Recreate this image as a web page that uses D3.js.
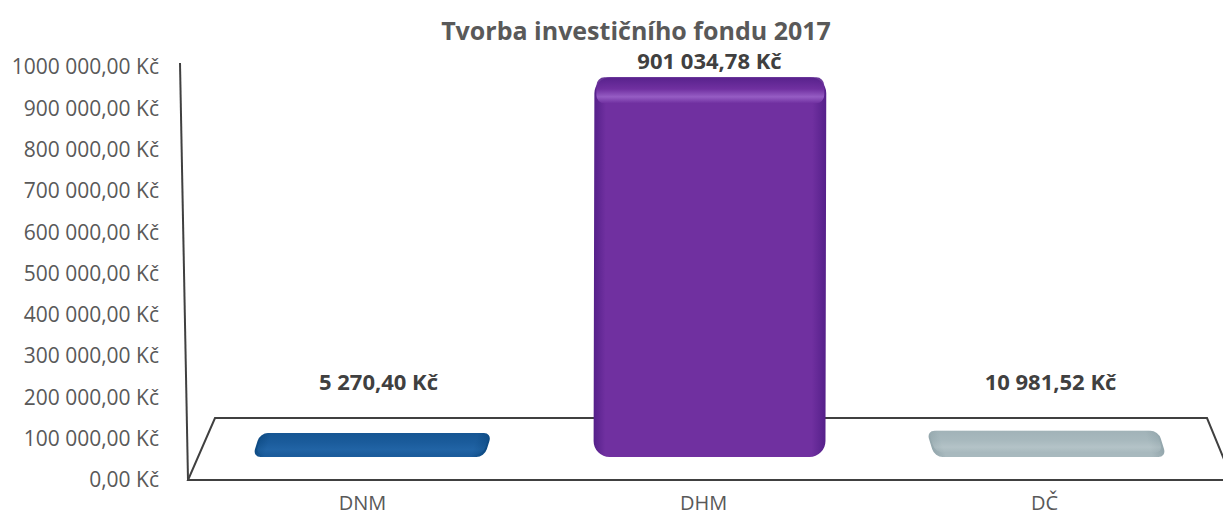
<!DOCTYPE html>
<html>
<head>
<meta charset="utf-8">
<script src="https://cdn.jsdelivr.net/npm/d3@7"></script>
<style>
  body { margin: 0; background: #fff; }
  svg { display: block; font-family: "Open Sans", "Noto Sans", sans-serif; }
</style>
</head>
<body>
<svg width="1223" height="518"></svg>
<script>
  const categories = ["DNM", "DHM", "DČ"];
  const values = [5270.40, 901034.78, 10981.52];
  const valueLabels = ["5 270,40 Kč", "901 034,78 Kč", "10 981,52 Kč"];
  const tickValues = [0, 100000, 200000, 300000, 400000, 500000, 600000, 700000, 800000, 900000, 1000000];
  const tickLabels = ["0,00 Kč", "100 000,00 Kč", "200 000,00 Kč", "300 000,00 Kč", "400 000,00 Kč",
    "500 000,00 Kč", "600 000,00 Kč", "700 000,00 Kč", "800 000,00 Kč", "900 000,00 Kč", "1000 000,00 Kč"];

  var svg = d3.select('svg')
  var defs = svg.append('defs')

  // front plane scales (axis) and bar plane scales (mid depth of the floor)
  var x = d3.scaleBand().domain(categories).range([198, 1221]).paddingInner(0.32).paddingOuter(0.16)
  var y = d3.scaleLinear().domain([0, 1000000]).range([480, 67])
  var yBar = d3.scaleLinear().domain([0, 1000000]).range([457, 60])
  var cap = 22
  var centerX = 712

  // title
  svg.append('text')
    .attr('x', 636).attr('y', 40)
    .attr('text-anchor', 'middle')
    .attr('font-size', 25).attr('font-weight', 'bold')
    .attr('fill', '#595959')
    .text('Tvorba investičního fondu 2017')

  // floor (perspective plane)
  var floorBackY = 418, floorFrontY = y(0)
  svg.append('path')
    .attr('d', d3.line()([[1240, floorFrontY], [188, floorFrontY], [215, floorBackY], [1207, floorBackY], [1235, floorFrontY + 6]]))
    .attr('fill', 'none').attr('stroke', '#404040').attr('stroke-width', 2)

  // vertical axis line (tilted by perspective)
  svg.append('line')
    .attr('x1', 180).attr('y1', y(1000000) - 4)
    .attr('x2', 188).attr('y2', y(0))
    .attr('stroke', '#404040').attr('stroke-width', 2)

  // tick labels
  svg.append('g').selectAll('text')
    .data(tickValues)
    .enter().append('text')
      .attr('x', 159)
      .attr('y', function (d) { return y(d) })
      .attr('dy', '0.35em')
      .attr('text-anchor', 'end')
      .attr('font-size', 21)
      .attr('fill', '#595959')
      .text(function (d, i) { return tickLabels[i] })

  // category labels
  svg.append('g').selectAll('text')
    .data(categories)
    .enter().append('text')
      .attr('x', function (d) { return x(d) + x.bandwidth() / 2 - 6 })
      .attr('y', 510)
      .attr('text-anchor', 'middle')
      .attr('font-size', 20)
      .attr('fill', '#595959')
      .text(function (d) { return d })

  // gradients for the 3d look
  const palette = [
    { dark: '#0d4a82', mid: '#1b5c9c', light: '#2c72b6' },
    { dark: '#55208a', mid: '#7030a0', light: '#9a62c8' },
    { dark: '#93a6ac', mid: '#a8b9be', light: '#c9d5d8' }
  ]
  palette.forEach(function (c, i) {
    var g = defs.append('linearGradient').attr('id', 'side' + i).attr('x1', 0).attr('x2', 1).attr('y1', 0).attr('y2', 0)
    g.append('stop').attr('offset', '0%').attr('stop-color', c.dark)
    g.append('stop').attr('offset', '5%').attr('stop-color', c.mid)
    g.append('stop').attr('offset', '94%').attr('stop-color', c.mid)
    g.append('stop').attr('offset', '100%').attr('stop-color', c.dark)
    var t = defs.append('linearGradient').attr('id', 'cap' + i).attr('x1', 0).attr('x2', 0).attr('y1', 0).attr('y2', 1)
    t.append('stop').attr('offset', '0%').attr('stop-color', c.dark)
    t.append('stop').attr('offset', '45%').attr('stop-color', c.mid)
    t.append('stop').attr('offset', '75%').attr('stop-color', c.light)
    t.append('stop').attr('offset', '100%').attr('stop-color', c.mid)
  })

  var bars = svg.append('g').selectAll('g')
    .data(values)
    .enter().append('g')
      .attr('transform', function (d, i) {
        var cx = x(categories[i]) + x.bandwidth() / 2
        var skew = Math.atan((cx - centerX) * 0.0009) * 180 / Math.PI
        return 'translate(0,' + yBar(0) + ') skewX(' + skew + ') translate(0,' + (-yBar(0)) + ')'
      })

  // body
  bars.append('rect')
    .attr('x', function (d, i) { return x(categories[i]) })
    .attr('y', function (d) { return yBar(d) - cap })
    .attr('width', x.bandwidth())
    .attr('height', function (d) { return yBar(0) - yBar(d) + cap })
    .attr('rx', function (d) { return d > 100000 ? 16 : 8 })
    .attr('fill', function (d, i) { return 'url(#side' + i + ')' })

  // top face
  bars.append('rect')
    .attr('x', function (d, i) { return x(categories[i]) + 2 })
    .attr('y', function (d) { return yBar(d) - cap })
    .attr('width', x.bandwidth() - 4)
    .attr('height', function (d) { return d > 100000 ? cap + 4 : cap })
    .attr('rx', 8)
    .attr('fill', function (d, i) { return 'url(#cap' + i + ')' })
    .attr('opacity', function (d) { return d > 100000 ? 0.9 : 0.35 })

  // value labels
  svg.append('g').selectAll('text')
    .data(values)
    .enter().append('text')
      .attr('x', function (d, i) { return x(categories[i]) + x.bandwidth() / 2 + (i === 0 ? 10 : 0) })
      .attr('y', function (d) { return Math.min(yBar(d) - cap - 8, 390) })
      .attr('text-anchor', 'middle')
      .attr('font-size', 22).attr('font-weight', 'bold')
      .attr('fill', '#404040')
      .text(function (d, i) { return valueLabels[i] })
</script>
</body>
</html>
